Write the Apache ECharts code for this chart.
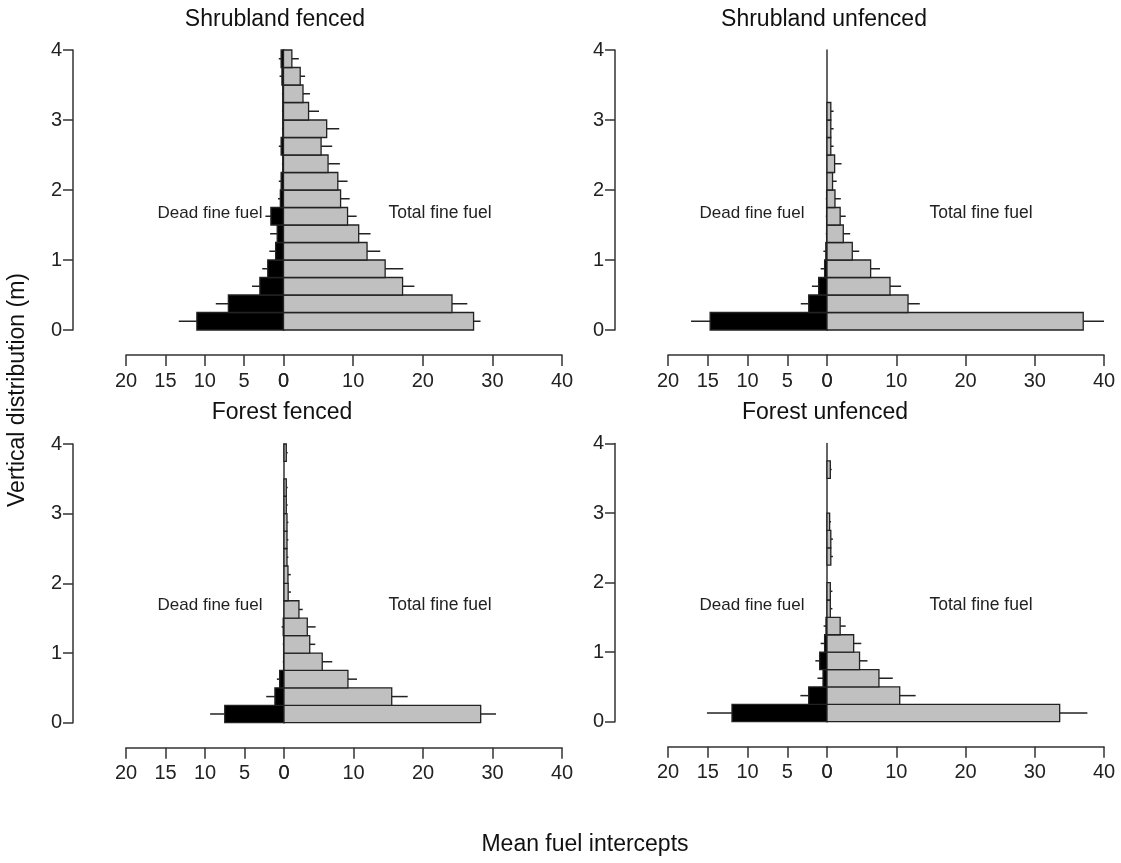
<!DOCTYPE html>
<html><head><meta charset="utf-8">
<script src="https://cdn.jsdelivr.net/npm/echarts@6/dist/echarts.min.js"></script>
<style>html,body{margin:0;padding:0;background:#fff}#c{width:1121px;height:863px}</style>
</head><body><div id="c"></div>
<script>
// ---- data ----
// lower edge of each 0.25 m height class
const heightBins = [0, 0.25, 0.5, 0.75, 1, 1.25, 1.5, 1.75, 2, 2.25, 2.5, 2.75, 3, 3.25, 3.5, 3.75];
const binSize = 0.25;
const yTicks = [0, 1, 2, 3, 4];
const deadTicks = [0, 5, 10, 15, 20];
const totalTicks = [0, 10, 20, 30, 40];
const panelTitles = ['Shrubland fenced', 'Shrubland unfenced', 'Forest fenced', 'Forest unfenced'];
const deadLabel = 'Dead fine fuel';
const totalLabel = 'Total fine fuel';
const yTitle = 'Vertical distribution (m)';
const xTitle = 'Mean fuel intercepts';

// Shrubland fenced
const sfTotal    = [27.3, 24.2, 17.1, 14.6, 12.0, 10.8, 9.2, 8.2, 7.8, 6.4, 5.4, 6.2, 3.6, 2.8, 2.4, 1.2];
const sfTotalErr = [1.0, 2.2, 1.7, 2.6, 1.9, 1.7, 1.3, 1.3, 1.4, 1.7, 1.6, 1.8, 1.5, 1.0, 0.7, 1.0];
const sfDead     = [11.0, 7.0, 3.0, 2.0, 1.0, 0.8, 1.6, 0.4, 0.3, 0.1, 0.3, 0.1, 0.1, 0.1, 0.2, 0.3];
const sfDeadErr  = [2.3, 1.6, 1.0, 0.7, 0.8, 0.9, 0.7, 0.3, 0.3, 0.1, 0.3, 0.1, 0.1, 0.1, 0.3, 0.3];
// Shrubland unfenced
const suTotal    = [37.0, 11.7, 9.1, 6.3, 3.65, 2.35, 1.9, 1.15, 0.8, 1.1, 0.55, 0.55, 0.55, 0, 0, 0];
const suTotalErr = [3.0, 1.7, 1.6, 1.35, 1.0, 1.0, 0.8, 0.85, 0.6, 1.0, 0.4, 0.4, 0.4, 0, 0, 0];
const suDead     = [14.7, 2.3, 1.05, 0.3, 0.15, 0.05, 0.05, 0.05, 0, 0, 0, 0, 0, 0, 0, 0];
const suDeadErr  = [2.4, 1.0, 0.85, 0.5, 0.3, 0.1, 0.1, 0.1, 0, 0, 0, 0, 0, 0, 0, 0];
// Forest fenced
const ffTotal    = [28.3, 15.5, 9.2, 5.5, 3.7, 3.35, 2.15, 0.6, 0.57, 0.43, 0.43, 0.43, 0.33, 0.33, 0, 0.33];
const ffTotalErr = [2.2, 2.3, 1.3, 1.45, 0.8, 1.2, 0.55, 0.4, 0.4, 0.2, 0.2, 0.2, 0.2, 0.2, 0, 0.2];
const ffDead     = [7.5, 1.15, 0.55, 0.05, 0.05, 0.1, 0, 0, 0, 0, 0, 0, 0, 0, 0, 0];
const ffDeadErr  = [1.85, 1.1, 0.35, 0.1, 0.1, 0.2, 0, 0, 0, 0, 0, 0, 0, 0, 0, 0];
// Forest unfenced
const fuTotal    = [33.6, 10.5, 7.5, 4.7, 3.85, 1.9, 0.48, 0.48, 0, 0.55, 0.55, 0.38, 0, 0, 0.48, 0];
const fuTotalErr = [4.0, 2.3, 2.0, 1.15, 1.1, 0.8, 0.3, 0.3, 0, 0.3, 0.3, 0.2, 0, 0, 0.2, 0];
const fuDead     = [11.95, 2.3, 0.5, 0.92, 0.3, 0.13, 0, 0, 0, 0, 0, 0, 0, 0, 0, 0];
const fuDeadErr  = [3.15, 1.05, 0.7, 0.55, 0.5, 0.3, 0, 0, 0, 0, 0, 0, 0, 0, 0, 0];

const panelData = [
  {total: sfTotal, totalErr: sfTotalErr, dead: sfDead, deadErr: sfDeadErr},
  {total: suTotal, totalErr: suTotalErr, dead: suDead, deadErr: suDeadErr},
  {total: ffTotal, totalErr: ffTotalErr, dead: ffDead, deadErr: ffDeadErr},
  {total: fuTotal, totalErr: fuTotalErr, dead: fuDead, deadErr: fuDeadErr}
];

// ---- layout ----
const FONT = "'Liberation Sans', Arial, sans-serif";
const AX = '#333';
const layout = [
  {yAx: 73,  xl: 126, xz: 283.5, xr: 562,  top: 50,  bottom: 330, xOff: 25},
  {yAx: 615, xl: 668, xz: 827,   xr: 1104, top: 50,  bottom: 330, xOff: 25},
  {yAx: 73,  xl: 126, xz: 284,   xr: 562,  top: 444, bottom: 722.7, xOff: 25},
  {yAx: 615, xl: 668, xz: 827,   xr: 1104, top: 443.5, bottom: 721.7, xOff: 25}
];

const grid = [], xAxis = [], yAxis = [], series = [];

function barRender(fill) {
  return function (params, api) {
    const y0 = api.value(0), v = api.value(1);
    if (!v) return null;
    const p0 = api.coord([0, y0]);
    const p1 = api.coord([v, y0 + binSize]);
    return {
      type: 'rect',
      shape: {x: Math.min(p0[0], p1[0]), y: Math.min(p0[1], p1[1]),
              width: Math.abs(p1[0] - p0[0]), height: Math.abs(p1[1] - p0[1])},
      style: {fill: fill, stroke: '#222', lineWidth: 1.3}
    };
  };
}
function errRender(params, api) {
  const y0 = api.value(0), v = api.value(1), e = api.value(2);
  if (!e) return null;
  const a = api.coord([v, y0 + binSize / 2]);
  const b = api.coord([v + e, y0 + binSize / 2]);
  return {type: 'line', shape: {x1: a[0], y1: a[1], x2: b[0], y2: b[1]},
          style: {stroke: '#222', lineWidth: 1.5}};
}

layout.forEach((L, p) => {
  const gl = grid.length;
  grid.push({left: L.xl, width: L.xz - L.xl, top: L.top, height: L.bottom - L.top});
  grid.push({left: L.xz, width: L.xr - L.xz, top: L.top, height: L.bottom - L.top});
  const axisCommon = {
    type: 'value', position: 'bottom', offset: L.xOff,
    axisLine: {show: true, onZero: false, lineStyle: {color: AX, width: 1.5}},
    axisTick: {show: true, length: 11, lineStyle: {color: AX, width: 1.5}},
    axisLabel: {fontSize: 20, color: '#222', fontFamily: FONT, margin: 16},
    splitLine: {show: false}
  };
  xAxis.push(Object.assign({}, axisCommon, {gridIndex: gl, min: deadTicks[0], max: deadTicks[deadTicks.length - 1], interval: 5, inverse: true}));
  xAxis.push(Object.assign({}, axisCommon, {gridIndex: gl + 1, min: totalTicks[0], max: totalTicks[totalTicks.length - 1], interval: 10}));
  yAxis.push({gridIndex: gl, type: 'value', min: yTicks[0], max: yTicks[yTicks.length - 1], interval: 1,
    position: 'left', offset: L.xl - L.yAx,
    axisLine: {show: true, onZero: false, lineStyle: {color: AX, width: 1.5}},
    axisTick: {show: true, length: 10, lineStyle: {color: AX, width: 1.5}},
    axisLabel: {fontSize: 20, color: '#222', fontFamily: FONT, margin: 11},
    splitLine: {show: false}});
  yAxis.push({gridIndex: gl + 1, type: 'value', min: 0, max: 4, interval: 1, position: 'left',
    axisLine: {show: true, onZero: false, lineStyle: {color: AX, width: 1.5}},
    axisTick: {show: false}, axisLabel: {show: false}, splitLine: {show: false}});

  const D = panelData[p];
  const deadArr = heightBins.map((h, i) => [h, D.dead[i], D.deadErr[i]]);
  const totArr = heightBins.map((h, i) => [h, D.total[i], D.totalErr[i]]);
  series.push({type: 'custom', xAxisIndex: gl, yAxisIndex: gl, renderItem: errRender, data: deadArr, z: 2});
  series.push({type: 'custom', xAxisIndex: gl, yAxisIndex: gl, renderItem: barRender('#000'), data: deadArr, z: 3});
  series.push({type: 'custom', xAxisIndex: gl + 1, yAxisIndex: gl + 1, renderItem: errRender, data: totArr, z: 2});
  series.push({type: 'custom', xAxisIndex: gl + 1, yAxisIndex: gl + 1, renderItem: barRender('#c0c0c0'), data: totArr, z: 3});
});

const titlePos = [[275, 20], [824, 20], [282, 413], [825, 413]];
const labelPos = [[210, 213, 440, 213], [752, 213, 981, 213], [210, 605, 440, 605], [752, 605, 981, 605]];
const graphic = [];
panelTitles.forEach((t, i) => {
  graphic.push({type: 'text', x: titlePos[i][0], y: titlePos[i][1],
    style: {text: t, font: "23px " + FONT, fill: '#111', align: 'center', verticalAlign: 'middle'}});
  graphic.push({type: 'text', x: labelPos[i][0], y: labelPos[i][1],
    style: {text: deadLabel, font: "17px " + FONT, fill: '#222', align: 'center', verticalAlign: 'middle'}});
  graphic.push({type: 'text', x: labelPos[i][2], y: labelPos[i][3],
    style: {text: totalLabel, font: "17.5px " + FONT, fill: '#222', align: 'center', verticalAlign: 'middle'}});
});
graphic.push({type: 'text', x: 18, y: 390, rotation: Math.PI / 2,
  style: {text: yTitle, font: "23px " + FONT, fill: '#111', align: 'center', verticalAlign: 'middle'}});
graphic.push({type: 'text', x: 585, y: 845,
  style: {text: xTitle, font: "23px " + FONT, fill: '#111', align: 'center', verticalAlign: 'middle'}});

const chart = echarts.init(document.getElementById('c'), null, {renderer: 'canvas'});
chart.setOption({backgroundColor: '#fff', animation: false, grid, xAxis, yAxis, series, graphic});
</script></body></html>
